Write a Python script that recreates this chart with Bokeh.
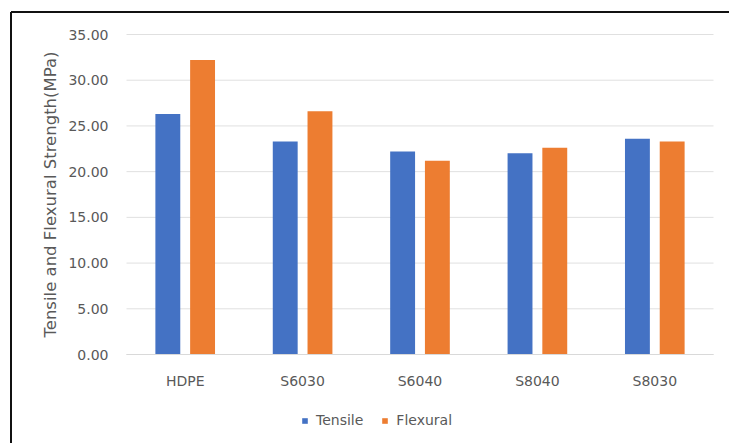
import math
from bokeh.plotting import figure
from bokeh.models import (ColumnDataSource, Range1d, Legend, LegendItem, NumeralTickFormatter,
                          FixedTicker, LinearAxis)
from bokeh.core.properties import value
from bokeh.embed import file_html
from bokeh.resources import INLINE

categories = ["HDPE", "S6030", "S6040", "S8040", "S8030"]
tensile = [26.3, 23.3, 22.2, 22.0, 23.6]
flexural = [32.2, 26.6, 21.2, 22.6, 23.3]
y_ticks = [0, 5, 10, 15, 20, 25, 30, 35]
y_title = "Tensile and Flexural Strength(MPa)"
series_names = ["Tensile", "Flexural"]

# layout (pixels)
W, H = 729, 443
PL, PR, PT, PB = 126, 713, 34, 354
FONT = "DejaVu Sans"
GRAY = "#595959"
BLUE, ORANGE = "#4472C4", "#ED7D31"

n = len(categories)
ymax = y_ticks[-1]
kx = n / (PR - PL)
ky = ymax / (PB - PT)


def X(px):
    return (px - PL) * kx


def Y(py):
    return (PB - py) * ky


centers = [i + 0.5 for i in range(n)]
src = ColumnDataSource(dict(cat=categories, xc=centers,
                            xt=[c - 0.148 for c in centers],
                            xf=[c + 0.148 for c in centers],
                            tensile=tensile, flexural=flexural))

p = figure(x_range=Range1d(X(0), X(W)), y_range=Range1d(Y(H), Y(0)),
           width=W, height=H, output_backend="svg", toolbar_location=None,
           x_axis_location=None, y_axis_location=None,
           min_border=0, min_border_left=0, min_border_right=0,
           min_border_top=0, min_border_bottom=0)
p.outline_line_color = None
p.background_fill_color = "white"
p.border_fill_color = "white"
for g in p.grid:
    g.visible = False

# horizontal gridlines over the plot area only
p.segment(x0=[0] * len(y_ticks), x1=[n] * len(y_ticks), y0=y_ticks, y1=y_ticks,
          line_color="#e0e0e0", line_width=1)

r1 = p.vbar(x="xt", top="tensile", width=0.212, source=src, fill_color=BLUE, line_color=None)
r2 = p.vbar(x="xf", top="flexural", width=0.212, source=src, fill_color=ORANGE, line_color=None)

yaxis = LinearAxis(fixed_location=0, ticker=FixedTicker(ticks=y_ticks),
                   formatter=NumeralTickFormatter(format="0.00"))
yaxis.axis_line_color = None
yaxis.major_tick_line_color = None
yaxis.minor_tick_line_color = None
yaxis.major_label_text_font = FONT
yaxis.major_label_text_font_size = "14px"
yaxis.major_label_text_color = GRAY
yaxis.major_label_standoff = 12
p.add_layout(yaxis, "left")

xaxis = LinearAxis(fixed_location=0, ticker=FixedTicker(ticks=centers),
                   major_label_overrides={c: cat for c, cat in zip(centers, categories)},
                   bounds=(0, n))
xaxis.axis_line_color = "#d9d9d9"
xaxis.major_tick_line_color = None
xaxis.minor_tick_line_color = None
xaxis.major_label_text_font = FONT
xaxis.major_label_text_font_size = "14px"
xaxis.major_label_text_color = GRAY
xaxis.major_label_standoff = 12
p.add_layout(xaxis, "below")

# y axis title
p.text(x=[X(50)], y=[ymax / 2], text=[y_title], angle=math.pi / 2,
       text_align="center", text_baseline="middle",
       text_font=value(FONT), text_font_size="16.5px", text_color=GRAY)

# chart-area border (left and top edges visible in the reference)
p.segment(x0=[X(10.5), X(10.5)], y0=[Y(11.5), Y(11.5)],
          x1=[X(10.5), X(W + 5)], y1=[Y(H + 5), Y(11.5)],
          line_color="#111111", line_width=2)

legend = Legend(items=[LegendItem(label=series_names[0], renderers=[r1]),
                       LegendItem(label=series_names[1], renderers=[r2])],
                orientation="horizontal", location=(301, 15),
                glyph_width=7, glyph_height=7, label_text_font=FONT,
                label_text_font_size="14px", label_text_color=GRAY,
                border_line_color=None, background_fill_alpha=0,
                spacing=18, label_standoff=8, padding=0, margin=0)
p.add_layout(legend)

open("out.html", "w").write(file_html(p, INLINE))
